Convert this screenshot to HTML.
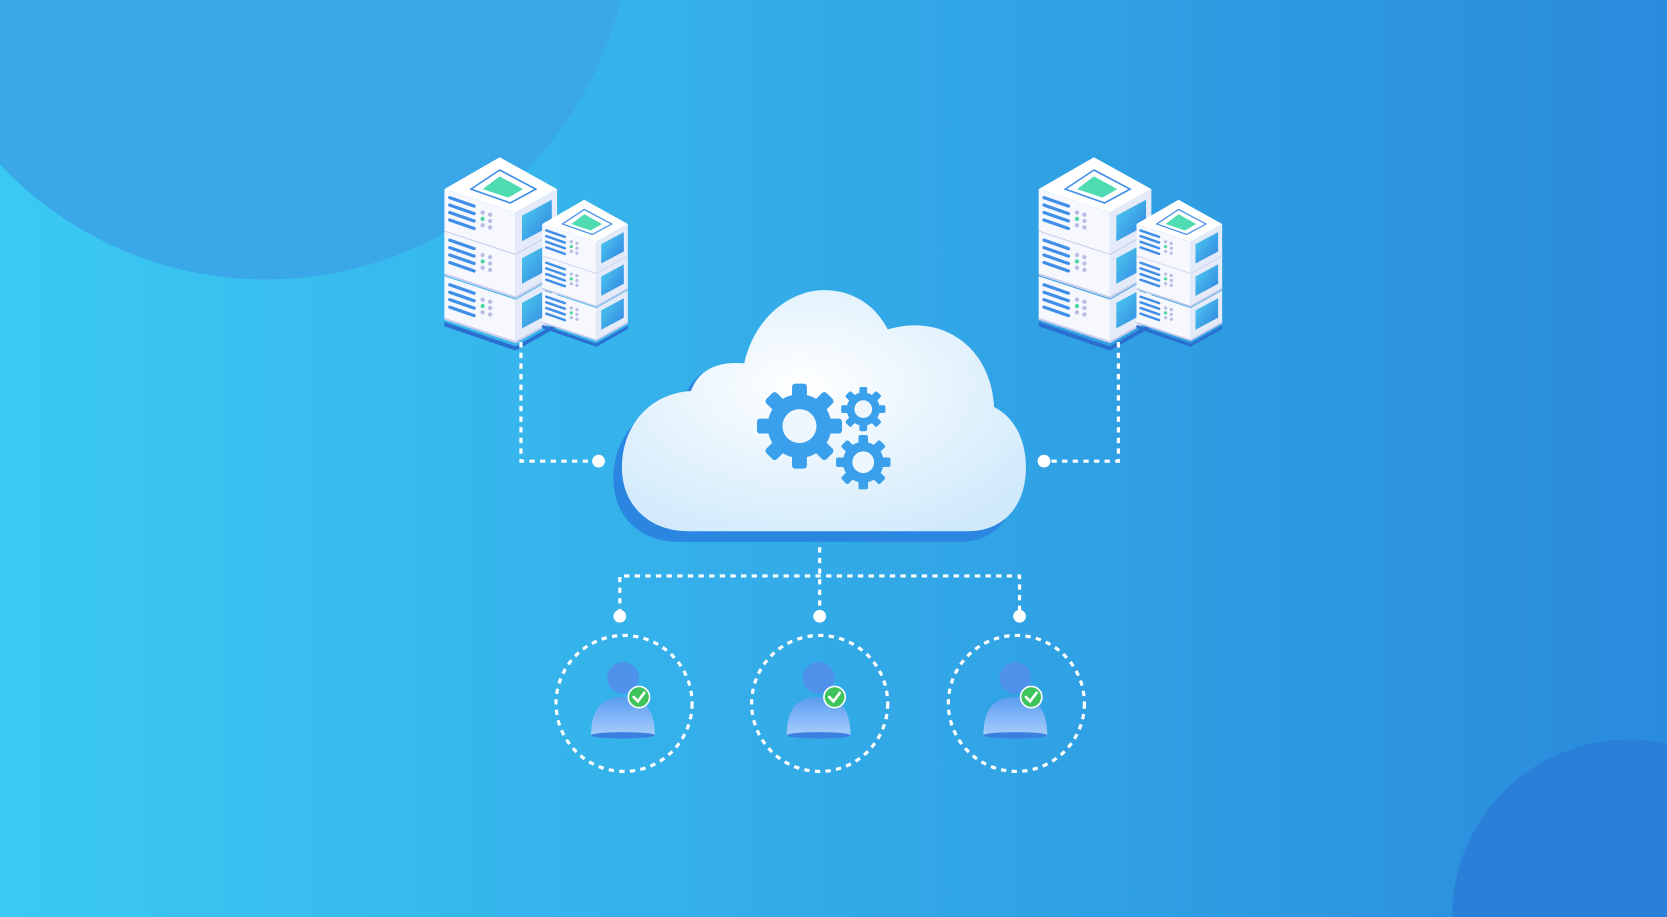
<!DOCTYPE html>
<html><head><meta charset="utf-8"><style>
html,body{margin:0;padding:0;width:1667px;height:917px;overflow:hidden}
svg{display:block;position:absolute;left:0;top:0}
</style></head><body>
<svg width="1667" height="917" viewBox="0 0 1568 863" preserveAspectRatio="none" xmlns="http://www.w3.org/2000/svg">
<defs>
<linearGradient id="bg" x1="0" y1="0" x2="1" y2="0">
<stop offset="0" stop-color="#3bc9f3"/><stop offset="1" stop-color="#2a8bdc"/></linearGradient>
<radialGradient id="cl" cx="0.45" cy="0.4" r="0.7">
<stop offset="0" stop-color="#ffffff"/><stop offset="1" stop-color="#cfe9fb"/></radialGradient>
<linearGradient id="scr" x1="0" y1="0" x2="1" y2="1">
<stop offset="0" stop-color="#4fd0f0"/><stop offset="1" stop-color="#2f7fe0"/></linearGradient>
<linearGradient id="usr" x1="0" y1="0" x2="0" y2="1">
<stop offset="0" stop-color="#5a9cf0"/><stop offset="1" stop-color="#a7cdfb"/></linearGradient>
<g id="layer">
<polygon points="0,30 67,52 67,92 0,70" fill="#f6f8fd"/>
<polygon points="67,52 106,30 106,70 67,92" fill="#e4eaf7"/>
<polygon points="73,55 101,40 101,64 73,79" fill="url(#scr)"/>
<g stroke="#3f8ee8" stroke-width="3" stroke-linecap="round">
<line x1="5" y1="38" x2="28" y2="46"/><line x1="5" y1="45" x2="28" y2="53"/><line x1="5" y1="52" x2="28" y2="60"/><line x1="5" y1="59" x2="28" y2="67"/></g>
<g fill="#b7bde6"><circle cx="36" cy="52" r="2"/><circle cx="43" cy="54" r="2"/><circle cx="36" cy="58" r="2" fill="#4ed6a6"/><circle cx="43" cy="60" r="2"/><circle cx="36" cy="64" r="2"/><circle cx="43" cy="66" r="2"/></g>
<polyline points="0,70 67,92 106,70" fill="none" stroke="#c8cdec" stroke-width="2"/>
</g>
<g id="server">
<polygon points="0,155 67,178 106,156 106,160 67,182 0,159" fill="#2a6fd0"/>
<use href="#layer"/>
<use href="#layer" transform="translate(0,40)"/>
<use href="#layer" transform="translate(0,82)"/>
<polygon points="52,0 106,30 67,52 0,30" fill="#ffffff"/>
<polygon points="52,12 86,30 62,43 25,30" fill="none" stroke="#3f8ee8" stroke-width="1.5"/>
<polygon points="52,18 74,30 60,38 36,30" fill="#4fdcb0"/>
</g>
<g id="user">
<circle cx="0" cy="-24" r="15" fill="#4f92ec"/>
<path d="M-30,30 C-30,0 -15,-6 0,-6 C15,-6 30,0 30,30 Z" fill="url(#usr)"/>
<ellipse cx="0" cy="30" rx="30" ry="3" fill="#3d7fe0"/>
<circle cx="15" cy="-6" r="10" fill="#3fc45c" stroke="#fff" stroke-width="1.5"/>
<polyline points="10,-6 14,-2 20,-10" fill="none" stroke="#fff" stroke-width="2.5" stroke-linecap="round"/>
</g>
<g id="gear">
<circle r="30" fill="#3ba0ec"/>
<g fill="#3ba0ec">
<rect x="-7" y="-40" width="14" height="14" rx="3"/><rect x="-7" y="26" width="14" height="14" rx="3"/>
<rect x="-40" y="-7" width="14" height="14" rx="3"/><rect x="26" y="-7" width="14" height="14" rx="3"/>
<rect x="-7" y="-40" width="14" height="14" rx="3" transform="rotate(45)"/><rect x="-7" y="26" width="14" height="14" rx="3" transform="rotate(45)"/>
<rect x="-40" y="-7" width="14" height="14" rx="3" transform="rotate(45)"/><rect x="26" y="-7" width="14" height="14" rx="3" transform="rotate(45)"/></g>
<circle r="16" fill="#eef7fe"/>
</g>
</defs>
<rect width="1568" height="863" fill="url(#bg)"/>
<circle cx="250" cy="-80" r="343" fill="#3aa7e8"/>
<circle cx="1532" cy="862" r="166" fill="#2a80d9"/>

<use href="#server" transform="translate(418,148)"/>
<use href="#server" transform="translate(510,188) scale(0.76)"/>
<use href="#server" transform="translate(977,148)"/>
<use href="#server" transform="translate(1069,188) scale(0.76)"/>

<g stroke="#fff" stroke-width="3" stroke-dasharray="5,5" fill="none">
<polyline points="490,322 490,434 560,434"/>
<polyline points="1052,322 1052,434 985,434"/>
<line x1="771" y1="505" x2="771" y2="578"/>
<polyline points="583,578 583,542 959,542 959,578"/>
<circle cx="587" cy="662" r="64"/>
<circle cx="771" cy="662" r="64"/>
<circle cx="956" cy="662" r="64"/>
</g>
<g fill="#fff"><circle cx="563" cy="434" r="6"/><circle cx="982" cy="434" r="6"/>
<circle cx="583" cy="580" r="6"/><circle cx="771" cy="580" r="6"/><circle cx="959" cy="580" r="6"/></g>

<path d="M640,510 C600,510 577,485 577,450 C577,410 605,380 642,378 C650,350 675,340 700,345 C710,300 745,280 775,280 C805,280 825,298 832,318 C880,300 925,330 928,390 C950,400 957,425 957,450 C957,485 935,510 905,510 Z" fill="#2a86e0"/>
<path d="M648,500 C610,500 585,475 585,440 C585,400 612,370 650,368 C658,345 680,340 700,342 C710,297 745,273 775,273 C805,273 825,290 835,310 C885,295 932,325 935,383 C955,393 965,415 965,440 C965,475 945,500 910,500 Z" fill="url(#cl)"/>
<use href="#gear" transform="translate(752,401) scale(1.0)"/>
<use href="#gear" transform="translate(812,385) scale(0.52)"/>
<use href="#gear" transform="translate(812,435) scale(0.64)"/>

<use href="#user" transform="translate(586,662)"/>
<use href="#user" transform="translate(770,662)"/>
<use href="#user" transform="translate(955,662)"/>
</svg>
</body></html>
